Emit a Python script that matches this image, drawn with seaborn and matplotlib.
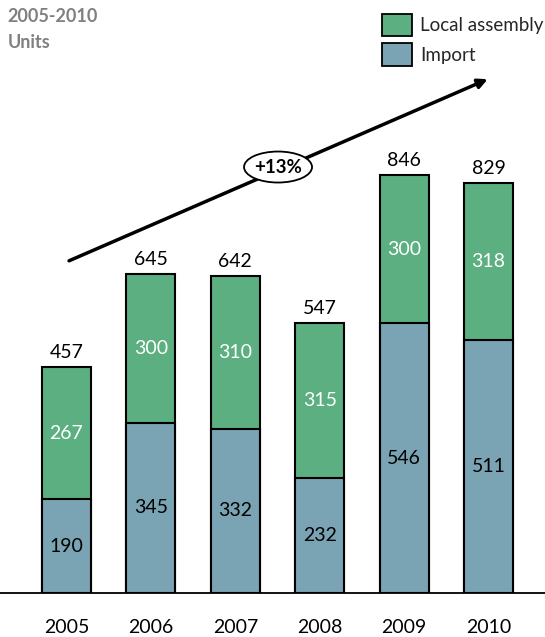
import matplotlib
matplotlib.use("Agg")
import matplotlib.pyplot as plt
import seaborn as sns
import pandas as pd
from matplotlib.patches import Ellipse, Patch

years = ["2005", "2006", "2007", "2008", "2009", "2010"]
imports = [190, 345, 332, 232, 546, 511]
local = [267, 300, 310, 315, 300, 318]
totals = [i + l for i, l in zip(imports, local)]
title_lines = ["2005-2010", "Units"]
cagr_label = "+13%"

GREEN = "#5BAF80"
BLUE = "#7AA3B3"

sns.set_theme(style="white")
plt.rcParams["font.family"] = ["Lato", "DejaVu Sans"]

df = pd.DataFrame({"year": years, "import": imports, "local": local, "total": totals})

fig = plt.figure(figsize=(5.45, 6.37), dpi=100)
ax = fig.add_axes([0, 44 / 637, 1, 593 / 637])

sns.barplot(data=df, x="year", y="total", color=GREEN, saturation=1, width=0.58,
            edgecolor="black", linewidth=1.5, ax=ax)
sns.barplot(data=df, x="year", y="import", color=BLUE, saturation=1, width=0.58,
            edgecolor="black", linewidth=1.5, ax=ax)

ax.set_xlim(-0.788, 5.669)
ax.set_ylim(0, 1200)
ax.set_xlabel("")
ax.set_ylabel("")
ax.set_yticks([])
for s in ["top", "left", "right"]:
    ax.spines[s].set_visible(False)
ax.spines["bottom"].set_color("black")
ax.spines["bottom"].set_linewidth(1.3)
ax.tick_params(axis="x", length=0, pad=19, labelsize=14, colors="black")

for i in range(len(years)):
    ax.text(i, imports[i] / 2, str(imports[i]), ha="center", va="center", fontsize=14, color="black")
    ax.text(i, imports[i] + local[i] / 2, str(local[i]), ha="center", va="center", fontsize=14, color="white")
    ax.text(i, totals[i] + 12, str(totals[i]), ha="center", va="bottom", fontsize=14, color="black")

# growth arrow
ax.annotate("", xy=(5.02, 1042), xytext=(0.0, 670),
            arrowprops=dict(arrowstyle="-|>", color="black", lw=2.5, mutation_scale=14))
ell = Ellipse((2.506, 862), width=68 / 84.4, height=31 / 0.4942, facecolor="white",
              edgecolor="black", linewidth=1.3, zorder=5)
ax.add_patch(ell)
ax.text(2.506, 862, cagr_label, ha="center", va="center", fontsize=13.5, fontweight="bold",
        color="black", zorder=6)

# title
fig.text(0.014, 1 - 17 / 637, title_lines[0], ha="left", va="center", fontsize=13,
         fontweight="bold", color="#808080")
fig.text(0.014, 1 - 42 / 637, title_lines[1], ha="left", va="center", fontsize=13,
         fontweight="bold", color="#808080")

# legend
handles = [Patch(facecolor=GREEN, edgecolor="black", linewidth=1.3, label="Local assembly"),
           Patch(facecolor=BLUE, edgecolor="black", linewidth=1.3, label="Import")]
fig.legend(handles=handles, loc="upper left", bbox_to_anchor=(374 / 545, 1 - 6 / 637),
           frameon=False, fontsize=13.5, handlelength=1.6, handleheight=1.45,
           handletextpad=0.45, labelspacing=0.4, borderaxespad=0)

fig.savefig("out.png", dpi=100)
